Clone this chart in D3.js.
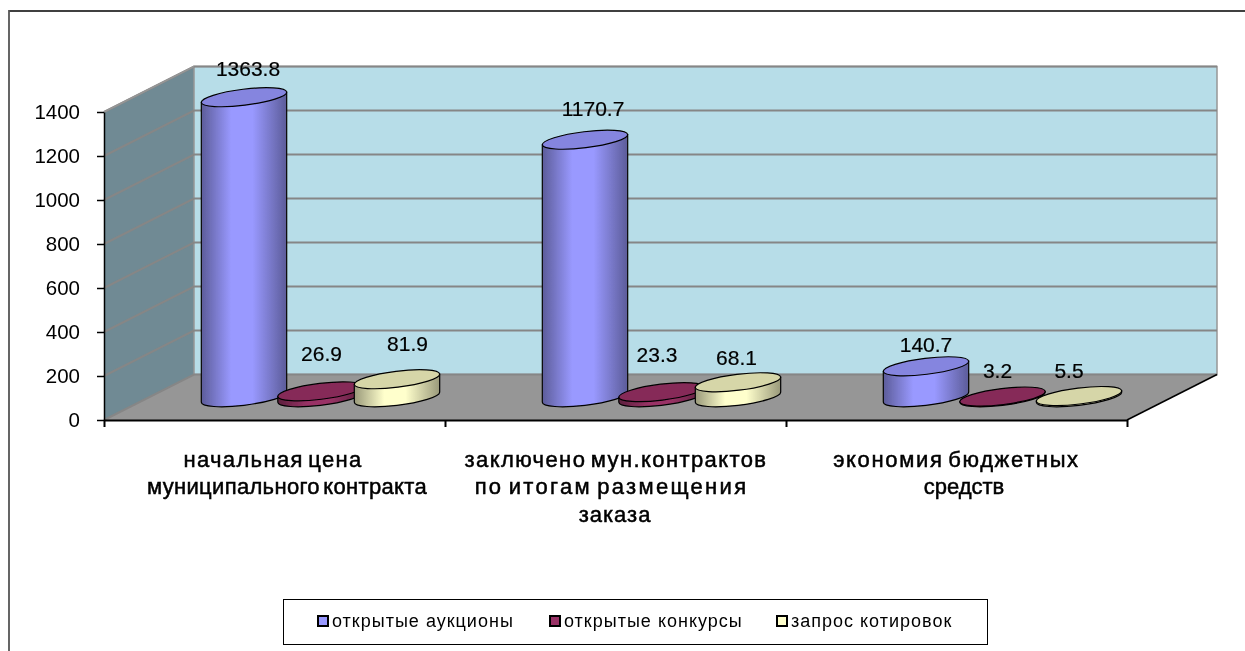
<!DOCTYPE html>
<html>
<head>
<meta charset="utf-8">
<script src="https://cdn.jsdelivr.net/npm/d3@7"></script>
<style>
html, body { margin: 0; padding: 0; background: #fff; overflow: hidden; }
text { font-family: "Liberation Sans", Arial, sans-serif; fill: #000; }
</style>
</head>
<body>
<div id="chart"></div>
<script>
const categories = [
    ['начальная цена', 'муниципального контракта'],
    ['заключено мун.контрактов', 'по итогам размещения', 'заказа'],
    ['экономия бюджетных', 'средств']
];
const seriesNames = ['открытые аукционы', 'открытые конкурсы', 'запрос котировок'];
const auctions = [1363.8, 1170.7, 140.7];
const contests = [26.9, 23.3, 3.2];
const quotes = [81.9, 68.1, 5.5];
const valueTicks = [0, 200, 400, 600, 800, 1000, 1200, 1400];

const seriesValues = [auctions, contests, quotes];

// side light / side dark / top, per series
const colors = [
    { light: '#9999ff', dark: '#5c5c99', top: '#8585df' },
    { light: '#993366', dark: '#5c1f3d', top: '#862a59' },
    { light: '#ffffcc', dark: '#99997a', top: '#d6d6a8' }
];

// hand placed label offsets from the top of each cylinder, the chart app nudged these
const labelNudge = [
    [[4, -29], [8, -31], [0, -22]],
    [[1, -38], [-4.5, -38], [-5, -26]],
    [[10.5, -36], [-1.5, -25], [-10, -26]]
];
// category lines are not quite centred or evenly spaced either
const lineNudge = [[-1.5, 12.5], [0.5, -4, -0.5], [0, 7.5]];
const lineSpacing = [[1.35, 0.33], [1.4, 2.3, 1], [1.65, 0]];

const width = 1245, height = 651;
const root = d3.select('#chart').append('svg')
    .attr('width', width)
    .attr('height', height)
    .style('display', 'block');

const defs = root.append('defs');
defs.append('filter')
    .attr('id', 'soft')
    .attr('filterUnits', 'userSpaceOnUse')
    .attr('x', 0).attr('y', 0).attr('width', width).attr('height', height)
    .append('feGaussianBlur')
    .attr('stdDeviation', 0.4);

colors.forEach((c, i) => {
    const grad = defs.append('linearGradient').attr('id', `side${i}`);
    grad.append('stop').attr('offset', '0%').attr('stop-color', c.dark);
    grad.append('stop').attr('offset', '35%').attr('stop-color', c.light);
    grad.append('stop').attr('offset', '60%').attr('stop-color', c.light);
    grad.append('stop').attr('offset', '100%').attr('stop-color', c.dark);
});

const svg = root.append('g').attr('filter', 'url(#soft)');

// Outer frame, only top and left fall inside the picture
svg.append('rect').attr('width', width).attr('height', height).attr('fill', '#fff');
svg.append('path')
    .attr('d', d3.line()([[9, 11], [width, 11]]))
    .attr('stroke', '#000')
    .attr('stroke-width', 1.6);
svg.append('path')
    .attr('d', d3.line()([[9, 10], [9, height]]))
    .attr('stroke', '#555')
    .attr('stroke-width', 1.8);

// Front plane scales, the 3d depth is a fixed shift
const depthX = 90, depthY = -45.5;
const x0 = 104, x1 = 1127;
const yFront = d3.scaleLinear().domain([0, 1400]).range([420, 112]);

// Walls
const line = d3.line();
svg.append('path')
    .attr('d', line([[x0, yFront(0)], [x0 + depthX, yFront(0) + depthY], [x0 + depthX, yFront(1400) + depthY], [x0, yFront(1400)]]) + 'Z')
    .attr('fill', '#6f8a94');
svg.append('path')
    .attr('d', line([[x0 + depthX, yFront(1400) + depthY], [x1 + depthX, yFront(1400) + depthY], [x1 + depthX, yFront(0) + depthY], [x0 + depthX, yFront(0) + depthY]]) + 'Z')
    .attr('fill', '#b7dde8')
    .attr('stroke', '#969696')
    .attr('stroke-width', 1.5);
svg.append('path')
    .attr('d', line([[x0, yFront(0)], [x0 + depthX, yFront(0) + depthY], [x1 + depthX, yFront(0) + depthY], [x1, yFront(0)]]) + 'Z')
    .attr('fill', '#969696');

// Gridlines
svg.append('g').selectAll('path')
    .data(valueTicks)
    .enter().append('path')
    .attr('d', d => line([[x0, yFront(d)], [x0 + depthX, yFront(d) + depthY], [x1 + depthX, yFront(d) + depthY]]))
    .attr('fill', 'none')
    .attr('stroke', '#868686')
    .attr('stroke-width', 2);

// Outer edges of floor
svg.append('path')
    .attr('d', line([[x1, yFront(0)], [x1 + depthX, yFront(0) + depthY]]))
    .attr('stroke', '#000')
    .attr('stroke-width', 1.5);
svg.append('path')
    .attr('d', line([[x0, yFront(1400)], [x0 + depthX, yFront(1400) + depthY]]))
    .attr('stroke', '#969696')
    .attr('stroke-width', 1.5);

// Axes
const axisLeft = d3.axisLeft(yFront)
    .tickValues(valueTicks)
    .tickFormat(d3.format('d'))
    .tickSize(7)
    .tickPadding(17)
    .tickSizeOuter(0);
const axisG = svg.append('g')
    .attr('transform', `translate(${x0},0)`)
    .call(axisLeft);
axisG.selectAll('text')
    .attr('font-size', 20.5)
    .style('font-family', '"Liberation Sans", Arial, sans-serif');
axisG.selectAll('path, line').attr('stroke', '#000').attr('stroke-width', 1.5);

const xFront = d3.scaleBand().domain(d3.range(categories.length)).range([x0, x1]);
const axisBottom = d3.axisBottom(d3.scaleLinear().domain([0, categories.length]).range([x0, x1]))
    .ticks(categories.length)
    .tickSize(7)
    .tickSizeOuter(0)
    .tickFormat('');
svg.append('g')
    .attr('transform', `translate(0,${yFront(0)})`)
    .call(axisBottom)
    .selectAll('path, line')
    .attr('stroke', '#000')
    .attr('stroke-width', 2);

// Category labels
const catLabels = svg.append('g').selectAll('text')
    .data(categories)
    .enter().append('text')
    .attr('text-anchor', 'middle')
    .attr('font-size', 22)
    .attr('word-spacing', -3)
    .attr('stroke', '#000')
    .attr('stroke-width', 0.5);
catLabels.selectAll('tspan')
    .data((d, i) => d.map((s, j) => ({ s, i, j })))
    .enter().append('tspan')
    .attr('x', d => xFront(d.i) + xFront.bandwidth() / 2 + lineNudge[d.i][d.j])
    .attr('y', d => 466.5 + d.j * 27.7)
    .attr('letter-spacing', d => lineSpacing[d.i][d.j])
    .text(d => d.s);

// Cylinders sit half way into the floor
const xCat = d3.scaleBand().domain(d3.range(categories.length)).range([x0 + depthX / 2 + 1, x1 + depthX / 2 + 1]);
const xSeries = d3.scaleBand().domain(d3.range(seriesNames.length)).range([-114.75, 114.75]);
const baseY = yFront(0) + depthY / 2;
const h = d3.scaleLinear().domain([0, 1400]).range([0, yFront(0) - yFront(1400)]);

const a = 43, b = 8, tilt = -7 * Math.PI / 180;
const extX = Math.sqrt(a * a * Math.cos(tilt) ** 2 + b * b * Math.sin(tilt) ** 2);
const extY = (a * a - b * b) * Math.sin(tilt) * Math.cos(tilt) / extX;

function sidePath(cx, top, base) {
    return `M${cx - extX},${top - extY}` +
        `L${cx - extX},${base - extY}` +
        `A${a},${b},-7,0,0,${cx + extX},${base + extY}` +
        `L${cx + extX},${top + extY}Z`;
}

const bars = [];
seriesValues.forEach((vals, s) => {
    vals.forEach((v, c) => bars.push({ s, c, v }));
});

const cyl = svg.append('g').selectAll('g')
    .data(bars)
    .enter().append('g');

const barX = d => xCat(d.c) + xCat.bandwidth() / 2 + xSeries(d.s) + xSeries.bandwidth() / 2;

cyl.append('path')
    .attr('d', d => sidePath(barX(d), baseY - h(d.v), baseY))
    .attr('fill', d => `url(#side${d.s})`)
    .attr('stroke', '#000')
    .attr('stroke-width', 1.2);

cyl.append('ellipse')
    .attr('rx', a)
    .attr('ry', b)
    .attr('transform', d => `translate(${barX(d)},${baseY - h(d.v)}) rotate(-7)`)
    .attr('fill', d => colors[d.s].top)
    .attr('stroke', '#000')
    .attr('stroke-width', 1.2);

// Value labels
svg.append('g').selectAll('text')
    .data(bars)
    .enter().append('text')
    .attr('x', d => barX(d) + labelNudge[d.s][d.c][0])
    .attr('y', d => baseY - h(d.v) + labelNudge[d.s][d.c][1] + 7.5)
    .attr('text-anchor', 'middle')
    .attr('font-size', 21)
    .attr('stroke', '#000')
    .attr('stroke-width', 0.2)
    .text(d => d.v);

// Legend
svg.append('rect')
    .attr('x', 283.5)
    .attr('y', 599.5)
    .attr('width', 704)
    .attr('height', 45)
    .attr('fill', '#fff')
    .attr('stroke', '#000');

const legendX = d3.scaleOrdinal().domain(seriesNames).range([318, 550, 777]);
const legend = svg.append('g').selectAll('g')
    .data(seriesNames)
    .enter().append('g')
    .attr('transform', d => `translate(${legendX(d)},621)`);
legend.append('rect')
    .attr('x', 0)
    .attr('y', -5)
    .attr('width', 10)
    .attr('height', 10)
    .attr('fill', (d, i) => colors[i].light)
    .attr('stroke', '#000')
    .attr('stroke-width', 2);
legend.append('text')
    .attr('x', 14)
    .attr('y', 6)
    .attr('font-size', 18)
    .attr('letter-spacing', 1)
    .text(d => d);
</script>
</body>
</html>
